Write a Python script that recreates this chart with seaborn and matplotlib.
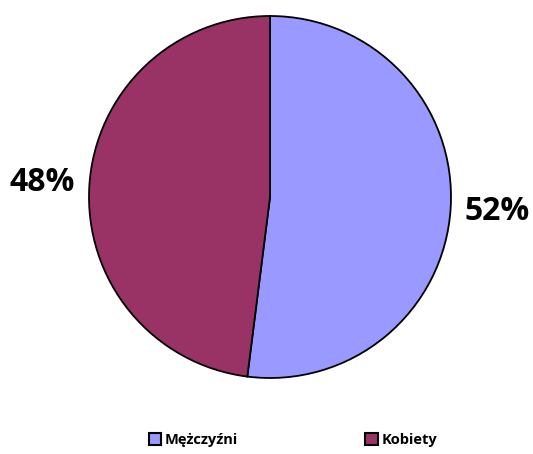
import matplotlib
matplotlib.use("Agg")
import matplotlib.pyplot as plt
import seaborn as sns

categories = ["Mężczyźni", "Kobiety"]
values = [52, 48]
colors = ["#9999FF", "#993366"]

sns.set_theme(style="white")
plt.rcParams["font.family"] = ["Open Sans", "DejaVu Sans"]

fig = plt.figure(figsize=(5.33, 4.54), dpi=100)
ax = fig.add_axes([89 / 533, 76 / 454, 362 / 533, 362 / 454])
wedges, texts, autotexts = ax.pie(
    values, colors=colors, startangle=90, counterclock=False,
    radius=1, autopct="%.0f%%", pctdistance=1.26,
    wedgeprops=dict(edgecolor="black", linewidth=1.3),
    textprops=dict(fontsize=23, fontweight="bold", color="black"),
)
ax.set_xlim(-1.0, 1.0)
ax.set_ylim(-1.0, 1.0)
ax.set_aspect("equal")
ax.axis("off")

leg = fig.legend(
    wedges, categories, loc="center", bbox_to_anchor=(293 / 533, 1 - 440 / 454),
    ncol=2, frameon=False, prop=dict(size=10.5, weight="bold"),
    handlelength=0.85, handleheight=0.85, handletextpad=0.25, columnspacing=8.7,
    labelcolor="black",
)
for h in leg.legend_handles:
    h.set_edgecolor("black")
    h.set_linewidth(1.5)

fig.savefig("out.png", dpi=100)
